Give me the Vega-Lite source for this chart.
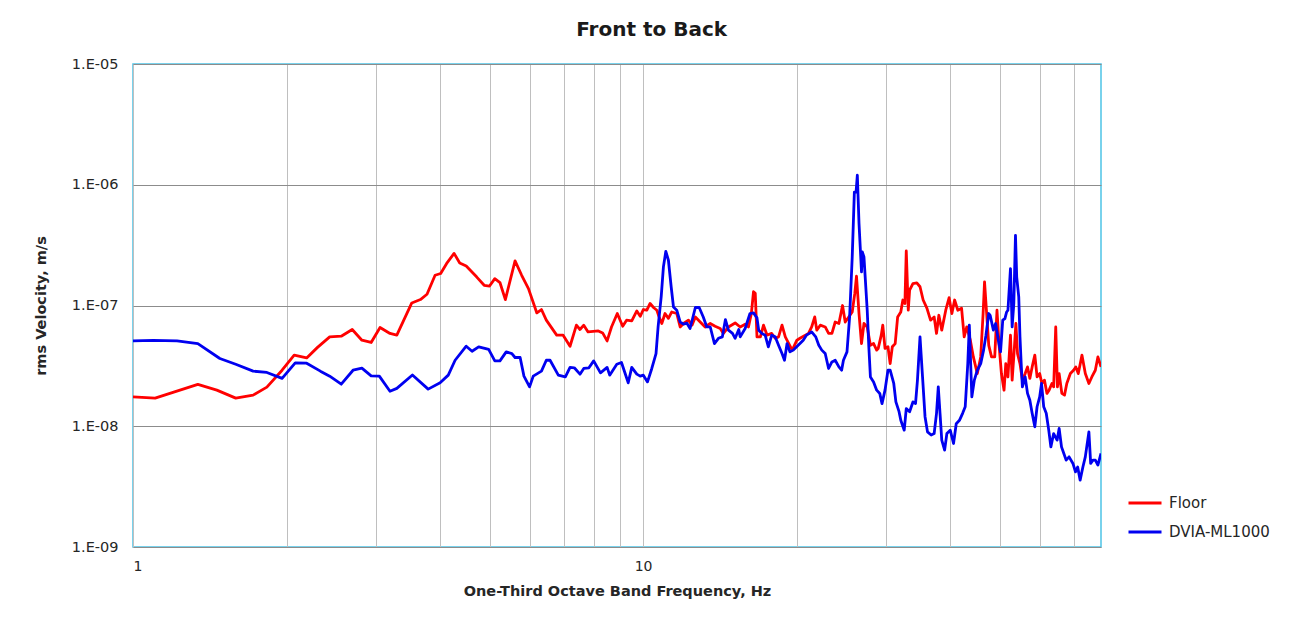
{
  "$schema": "https://vega.github.io/schema/vega-lite/v6.json",
  "autosize": {"type": "none"},
  "width": 968,
  "height": 483,
  "padding": {"left": 133, "top": 64, "right": 201, "bottom": 76},
  "background": "white",
  "config": {
    "font": "DejaVu Sans",
    "view": {"stroke": "#4DC3E6", "strokeWidth": 1.5},
    "axis": {"labelFont": "DejaVu Sans", "titleFont": "DejaVu Sans", "labelColor": "#262626", "titleColor": "#262626", "domain": false, "ticks": false},
    "legend": {"labelFont": "DejaVu Sans"}
  },
  "title": {"text": "Front to Back", "fontSize": 20, "fontWeight": "bold", "font": "DejaVu Sans", "color": "#1a1a1a", "anchor": "middle", "frame": "bounds", "offset": 16},
  "data": {"values": [
    {"s":"Floor","f":1.0,"v":1.75e-8},{"s":"Floor","f":1.105,"v":1.71e-8},{"s":"Floor","f":1.34,"v":2.22e-8},{"s":"Floor","f":1.46,"v":1.99e-8},{"s":"Floor","f":1.59,"v":1.71e-8},{"s":"Floor","f":1.72,"v":1.81e-8},{"s":"Floor","f":1.83,"v":2.11e-8},{"s":"Floor","f":1.96,"v":2.91e-8},{"s":"Floor","f":2.07,"v":3.88e-8},{"s":"Floor","f":2.19,"v":3.68e-8},{"s":"Floor","f":2.30,"v":4.5e-8},{"s":"Floor","f":2.43,"v":5.5e-8},{"s":"Floor","f":2.56,"v":5.57e-8},{"s":"Floor","f":2.69,"v":6.33e-8},{"s":"Floor","f":2.81,"v":5.16e-8},{"s":"Floor","f":2.93,"v":4.94e-8},{"s":"Floor","f":3.05,"v":6.58e-8},{"s":"Floor","f":3.19,"v":5.87e-8},{"s":"Floor","f":3.29,"v":5.68e-8},{"s":"Floor","f":3.52,"v":1.05e-7},{"s":"Floor","f":3.66,"v":1.12e-7},{"s":"Floor","f":3.77,"v":1.24e-7},{"s":"Floor","f":3.91,"v":1.78e-7},{"s":"Floor","f":4.01,"v":1.84e-7},{"s":"Floor","f":4.12,"v":2.23e-7},{"s":"Floor","f":4.26,"v":2.70e-7},{"s":"Floor","f":4.37,"v":2.25e-7},{"s":"Floor","f":4.50,"v":2.12e-7},{"s":"Floor","f":4.72,"v":1.72e-7},{"s":"Floor","f":4.88,"v":1.47e-7},{"s":"Floor","f":5.0,"v":1.45e-7},{"s":"Floor","f":5.12,"v":1.67e-7},{"s":"Floor","f":5.24,"v":1.55e-7},{"s":"Floor","f":5.37,"v":1.12e-7},{"s":"Floor","f":5.61,"v":2.34e-7},{"s":"Floor","f":5.78,"v":1.78e-7},{"s":"Floor","f":5.96,"v":1.38e-7},{"s":"Floor","f":6.19,"v":8.68e-8},{"s":"Floor","f":6.32,"v":9.26e-8},{"s":"Floor","f":6.46,"v":7.56e-8},{"s":"Floor","f":6.77,"v":5.68e-8},{"s":"Floor","f":6.97,"v":5.68e-8},{"s":"Floor","f":7.19,"v":4.6e-8},{"s":"Floor","f":7.40,"v":6.87e-8},{"s":"Floor","f":7.52,"v":6.33e-8},{"s":"Floor","f":7.65,"v":6.87e-8},{"s":"Floor","f":7.8,"v":6.04e-8},{"s":"Floor","f":8.17,"v":6.16e-8},{"s":"Floor","f":8.33,"v":5.93e-8},{"s":"Floor","f":8.5,"v":5.09e-8},{"s":"Floor","f":8.67,"v":6.64e-8},{"s":"Floor","f":8.90,"v":8.58e-8},{"s":"Floor","f":9.12,"v":6.74e-8},{"s":"Floor","f":9.28,"v":7.56e-8},{"s":"Floor","f":9.50,"v":7.46e-8},{"s":"Floor","f":9.72,"v":9.02e-8},{"s":"Floor","f":9.87,"v":8.14e-8},
    {"s":"Floor","f":10.01,"v":9.26e-8},{"s":"Floor","f":10.17,"v":9.14e-8},{"s":"Floor","f":10.32,"v":1.04e-7},{"s":"Floor","f":10.48,"v":9.63e-8},{"s":"Floor","f":10.64,"v":9.14e-8},{"s":"Floor","f":10.75,"v":8.04e-8},{"s":"Floor","f":10.88,"v":7.1e-8},{"s":"Floor","f":11.04,"v":8.58e-8},{"s":"Floor","f":11.21,"v":7.82e-8},{"s":"Floor","f":11.38,"v":8.84e-8},{"s":"Floor","f":11.64,"v":8.58e-8},{"s":"Floor","f":11.82,"v":6.64e-8},{"s":"Floor","f":12.0,"v":7.1e-8},{"s":"Floor","f":12.27,"v":7.56e-8},{"s":"Floor","f":12.47,"v":6.87e-8},{"s":"Floor","f":12.66,"v":8.04e-8},{"s":"Floor","f":12.94,"v":7.3e-8},{"s":"Floor","f":13.23,"v":6.64e-8},{"s":"Floor","f":13.54,"v":7.1e-8},{"s":"Floor","f":13.84,"v":6.74e-8},{"s":"Floor","f":14.16,"v":6.45e-8},{"s":"Floor","f":14.37,"v":5.87e-8},{"s":"Floor","f":14.70,"v":6.64e-8},{"s":"Floor","f":15.15,"v":7.17e-8},{"s":"Floor","f":15.50,"v":6.64e-8},{"s":"Floor","f":15.85,"v":7.0e-8},{"s":"Floor","f":16.09,"v":6.64e-8},{"s":"Floor","f":16.3,"v":8.58e-8},{"s":"Floor","f":16.46,"v":1.30e-7},{"s":"Floor","f":16.59,"v":1.26e-7},{"s":"Floor","f":16.72,"v":5.5e-8},{"s":"Floor","f":16.98,"v":5.5e-8},{"s":"Floor","f":17.22,"v":6.87e-8},{"s":"Floor","f":17.5,"v":5.68e-8},{"s":"Floor","f":17.87,"v":5.87e-8},{"s":"Floor","f":18.15,"v":5.35e-8},{"s":"Floor","f":18.43,"v":5.5e-8},{"s":"Floor","f":18.72,"v":6.87e-8},{"s":"Floor","f":19.0,"v":5.5e-8},{"s":"Floor","f":19.3,"v":4.84e-8},{"s":"Floor","f":19.6,"v":4.27e-8},{"s":"Floor","f":20.02,"v":5.16e-8},{"s":"Floor","f":20.3,"v":5.35e-8},{"s":"Floor","f":20.8,"v":5.68e-8},{"s":"Floor","f":21.1,"v":5.87e-8},{"s":"Floor","f":21.4,"v":6.64e-8},{"s":"Floor","f":21.7,"v":8.04e-8},{"s":"Floor","f":21.9,"v":6.25e-8},{"s":"Floor","f":22.25,"v":6.87e-8},{"s":"Floor","f":22.75,"v":6.64e-8},{"s":"Floor","f":23.1,"v":5.87e-8},{"s":"Floor","f":23.45,"v":5.87e-8},{"s":"Floor","f":23.8,"v":7.3e-8},{"s":"Floor","f":24.2,"v":7.1e-8},{"s":"Floor","f":24.6,"v":1.0e-7},{"s":"Floor","f":24.9,"v":7.3e-8},{"s":"Floor","f":25.3,"v":8.04e-8},{"s":"Floor","f":25.7,"v":8.84e-8},{"s":"Floor","f":26.0,"v":1.26e-7},{"s":"Floor","f":26.2,"v":1.75e-7},{"s":"Floor","f":26.5,"v":8.58e-8},{"s":"Floor","f":26.8,"v":4.84e-8},{"s":"Floor","f":27.1,"v":7.1e-8},{"s":"Floor","f":27.5,"v":6.64e-8},{"s":"Floor","f":27.9,"v":4.68e-8},{"s":"Floor","f":28.3,"v":4.84e-8},{"s":"Floor","f":28.7,"v":4.27e-8},{"s":"Floor","f":28.9,"v":4.41e-8},{"s":"Floor","f":29.3,"v":5.68e-8},{"s":"Floor","f":29.5,"v":6.87e-8},{"s":"Floor","f":29.8,"v":4.41e-8},{"s":"Floor","f":30.2,"v":4.55e-8},{"s":"Floor","f":30.5,"v":3.3e-8},{"s":"Floor","f":30.8,"v":4.55e-8},{"s":"Floor","f":31.2,"v":4.84e-8},{"s":"Floor","f":31.55,"v":8.04e-8},{"s":"Floor","f":32.0,"v":8.84e-8},{"s":"Floor","f":32.3,"v":1.11e-7},{"s":"Floor","f":32.6,"v":1.04e-7},{"s":"Floor","f":32.8,"v":2.83e-7},{"s":"Floor","f":33.1,"v":9.14e-8},{"s":"Floor","f":33.3,"v":1.34e-7},{"s":"Floor","f":33.8,"v":1.52e-7},{"s":"Floor","f":34.4,"v":1.54e-7},{"s":"Floor","f":34.9,"v":1.43e-7},{"s":"Floor","f":35.4,"v":1.11e-7},{"s":"Floor","f":36.0,"v":9.5e-8},{"s":"Floor","f":36.6,"v":7.56e-8},{"s":"Floor","f":37.2,"v":8.04e-8},{"s":"Floor","f":37.6,"v":5.87e-8},{"s":"Floor","f":38.0,"v":8.3e-8},{"s":"Floor","f":38.5,"v":6.25e-8},{"s":"Floor","f":39.2,"v":9.14e-8},{"s":"Floor","f":39.8,"v":1.16e-7},{"s":"Floor","f":40.3,"v":8.58e-8},{"s":"Floor","f":40.8,"v":1.11e-7},{"s":"Floor","f":41.4,"v":9.14e-8},{"s":"Floor","f":42.1,"v":9.5e-8},{"s":"Floor","f":42.6,"v":5.5e-8},{"s":"Floor","f":43.1,"v":6.64e-8},{"s":"Floor","f":43.8,"v":5.16e-8},{"s":"Floor","f":44.4,"v":3.75e-8},{"s":"Floor","f":45.2,"v":2.73e-8},{"s":"Floor","f":45.9,"v":3.75e-8},{"s":"Floor","f":46.4,"v":8.58e-8},{"s":"Floor","f":46.7,"v":1.57e-7},{"s":"Floor","f":47.1,"v":9.14e-8},{"s":"Floor","f":47.6,"v":4.68e-8},{"s":"Floor","f":48.2,"v":3.75e-8},{"s":"Floor","f":48.9,"v":3.75e-8},{"s":"Floor","f":49.4,"v":9.14e-8},{"s":"Floor","f":49.9,"v":4.55e-8},{"s":"Floor","f":50.4,"v":2.73e-8},{"s":"Floor","f":51.0,"v":1.99e-8},{"s":"Floor","f":51.4,"v":3.3e-8},{"s":"Floor","f":51.9,"v":2.56e-8},{"s":"Floor","f":52.5,"v":5.68e-8},{"s":"Floor","f":52.9,"v":2.41e-8},{"s":"Floor","f":53.4,"v":4.27e-8},{"s":"Floor","f":53.8,"v":7.1e-8},{"s":"Floor","f":54.2,"v":4.0e-8},{"s":"Floor","f":54.8,"v":3.3e-8},{"s":"Floor","f":55.4,"v":2.41e-8},{"s":"Floor","f":56.1,"v":2.73e-8},{"s":"Floor","f":56.7,"v":3.1e-8},{"s":"Floor","f":57.3,"v":2.49e-8},{"s":"Floor","f":57.9,"v":3.1e-8},{"s":"Floor","f":58.6,"v":3.88e-8},{"s":"Floor","f":59.2,"v":2.56e-8},{"s":"Floor","f":59.9,"v":2.73e-8},{"s":"Floor","f":60.5,"v":2.26e-8},{"s":"Floor","f":61.2,"v":2.41e-8},{"s":"Floor","f":61.9,"v":1.87e-8},{"s":"Floor","f":62.5,"v":1.99e-8},{"s":"Floor","f":63.3,"v":2.26e-8},{"s":"Floor","f":63.8,"v":2.12e-8},{"s":"Floor","f":64.4,"v":6.64e-8},{"s":"Floor","f":64.9,"v":2.12e-8},{"s":"Floor","f":65.4,"v":2.73e-8},{"s":"Floor","f":66.2,"v":1.87e-8},{"s":"Floor","f":67.0,"v":1.81e-8},{"s":"Floor","f":67.7,"v":2.26e-8},{"s":"Floor","f":68.8,"v":2.73e-8},{"s":"Floor","f":69.8,"v":2.91e-8},{"s":"Floor","f":70.5,"v":3.1e-8},{"s":"Floor","f":71.3,"v":2.73e-8},{"s":"Floor","f":72.5,"v":3.88e-8},{"s":"Floor","f":73.6,"v":2.73e-8},{"s":"Floor","f":74.8,"v":2.26e-8},{"s":"Floor","f":75.8,"v":2.56e-8},{"s":"Floor","f":77.0,"v":2.91e-8},{"s":"Floor","f":77.9,"v":3.75e-8},{"s":"Floor","f":79.0,"v":3.1e-8},
    {"s":"DVIA-ML1000","f":1.0,"v":5.09e-8},{"s":"DVIA-ML1000","f":1.096,"v":5.14e-8},{"s":"DVIA-ML1000","f":1.22,"v":5.09e-8},{"s":"DVIA-ML1000","f":1.34,"v":4.84e-8},{"s":"DVIA-ML1000","f":1.48,"v":3.64e-8},{"s":"DVIA-ML1000","f":1.59,"v":3.26e-8},{"s":"DVIA-ML1000","f":1.72,"v":2.86e-8},{"s":"DVIA-ML1000","f":1.83,"v":2.79e-8},{"s":"DVIA-ML1000","f":1.96,"v":2.49e-8},{"s":"DVIA-ML1000","f":2.08,"v":3.35e-8},{"s":"DVIA-ML1000","f":2.19,"v":3.33e-8},{"s":"DVIA-ML1000","f":2.33,"v":2.86e-8},{"s":"DVIA-ML1000","f":2.43,"v":2.6e-8},{"s":"DVIA-ML1000","f":2.56,"v":2.23e-8},{"s":"DVIA-ML1000","f":2.70,"v":2.91e-8},{"s":"DVIA-ML1000","f":2.81,"v":3.03e-8},{"s":"DVIA-ML1000","f":2.93,"v":2.61e-8},{"s":"DVIA-ML1000","f":3.04,"v":2.6e-8},{"s":"DVIA-ML1000","f":3.19,"v":1.95e-8},{"s":"DVIA-ML1000","f":3.29,"v":2.06e-8},{"s":"DVIA-ML1000","f":3.53,"v":2.66e-8},{"s":"DVIA-ML1000","f":3.79,"v":2.03e-8},{"s":"DVIA-ML1000","f":4.0,"v":2.29e-8},{"s":"DVIA-ML1000","f":4.15,"v":2.65e-8},{"s":"DVIA-ML1000","f":4.28,"v":3.52e-8},{"s":"DVIA-ML1000","f":4.50,"v":4.6e-8},{"s":"DVIA-ML1000","f":4.62,"v":4.18e-8},{"s":"DVIA-ML1000","f":4.76,"v":4.55e-8},{"s":"DVIA-ML1000","f":4.98,"v":4.33e-8},{"s":"DVIA-ML1000","f":5.12,"v":3.48e-8},{"s":"DVIA-ML1000","f":5.24,"v":3.48e-8},{"s":"DVIA-ML1000","f":5.39,"v":4.13e-8},{"s":"DVIA-ML1000","f":5.53,"v":4.0e-8},{"s":"DVIA-ML1000","f":5.61,"v":3.71e-8},{"s":"DVIA-ML1000","f":5.74,"v":3.71e-8},{"s":"DVIA-ML1000","f":5.84,"v":2.6e-8},{"s":"DVIA-ML1000","f":5.99,"v":2.12e-8},{"s":"DVIA-ML1000","f":6.09,"v":2.6e-8},{"s":"DVIA-ML1000","f":6.32,"v":2.86e-8},{"s":"DVIA-ML1000","f":6.46,"v":3.52e-8},{"s":"DVIA-ML1000","f":6.57,"v":3.52e-8},{"s":"DVIA-ML1000","f":6.82,"v":2.65e-8},{"s":"DVIA-ML1000","f":7.04,"v":2.56e-8},{"s":"DVIA-ML1000","f":7.19,"v":3.07e-8},{"s":"DVIA-ML1000","f":7.33,"v":3.05e-8},{"s":"DVIA-ML1000","f":7.52,"v":2.7e-8},{"s":"DVIA-ML1000","f":7.65,"v":3.01e-8},{"s":"DVIA-ML1000","f":7.83,"v":3.05e-8},{"s":"DVIA-ML1000","f":8.0,"v":3.48e-8},{"s":"DVIA-ML1000","f":8.25,"v":2.77e-8},{"s":"DVIA-ML1000","f":8.5,"v":3.07e-8},{"s":"DVIA-ML1000","f":8.6,"v":2.65e-8},{"s":"DVIA-ML1000","f":8.88,"v":3.26e-8},{"s":"DVIA-ML1000","f":9.07,"v":3.37e-8},{"s":"DVIA-ML1000","f":9.35,"v":2.29e-8},{"s":"DVIA-ML1000","f":9.5,"v":3.07e-8},{"s":"DVIA-ML1000","f":9.72,"v":2.7e-8},{"s":"DVIA-ML1000","f":9.87,"v":2.6e-8},
    {"s":"DVIA-ML1000","f":10.01,"v":2.65e-8},{"s":"DVIA-ML1000","f":10.2,"v":2.33e-8},{"s":"DVIA-ML1000","f":10.4,"v":3.01e-8},{"s":"DVIA-ML1000","f":10.6,"v":4.0e-8},{"s":"DVIA-ML1000","f":10.7,"v":6.64e-8},{"s":"DVIA-ML1000","f":10.85,"v":1.18e-7},{"s":"DVIA-ML1000","f":10.96,"v":2.09e-7},{"s":"DVIA-ML1000","f":11.08,"v":2.81e-7},{"s":"DVIA-ML1000","f":11.21,"v":2.37e-7},{"s":"DVIA-ML1000","f":11.35,"v":1.43e-7},{"s":"DVIA-ML1000","f":11.47,"v":9.7e-8},{"s":"DVIA-ML1000","f":11.64,"v":9.14e-8},{"s":"DVIA-ML1000","f":11.82,"v":7.3e-8},{"s":"DVIA-ML1000","f":12.0,"v":7.0e-8},{"s":"DVIA-ML1000","f":12.18,"v":7.15e-8},{"s":"DVIA-ML1000","f":12.36,"v":6.45e-8},{"s":"DVIA-ML1000","f":12.66,"v":9.63e-8},{"s":"DVIA-ML1000","f":12.88,"v":9.63e-8},{"s":"DVIA-ML1000","f":13.12,"v":8.04e-8},{"s":"DVIA-ML1000","f":13.33,"v":6.64e-8},{"s":"DVIA-ML1000","f":13.54,"v":6.64e-8},{"s":"DVIA-ML1000","f":13.8,"v":4.84e-8},{"s":"DVIA-ML1000","f":14.05,"v":5.35e-8},{"s":"DVIA-ML1000","f":14.3,"v":5.5e-8},{"s":"DVIA-ML1000","f":14.5,"v":7.65e-8},{"s":"DVIA-ML1000","f":14.7,"v":6.25e-8},{"s":"DVIA-ML1000","f":14.97,"v":5.87e-8},{"s":"DVIA-ML1000","f":15.15,"v":5.35e-8},{"s":"DVIA-ML1000","f":15.4,"v":6.33e-8},{"s":"DVIA-ML1000","f":15.5,"v":5.5e-8},{"s":"DVIA-ML1000","f":15.85,"v":6.45e-8},{"s":"DVIA-ML1000","f":16.2,"v":8.58e-8},{"s":"DVIA-ML1000","f":16.46,"v":8.68e-8},{"s":"DVIA-ML1000","f":16.72,"v":7.9e-8},{"s":"DVIA-ML1000","f":16.85,"v":6.25e-8},{"s":"DVIA-ML1000","f":17.1,"v":5.87e-8},{"s":"DVIA-ML1000","f":17.35,"v":5.68e-8},{"s":"DVIA-ML1000","f":17.6,"v":4.55e-8},{"s":"DVIA-ML1000","f":17.87,"v":5.68e-8},{"s":"DVIA-ML1000","f":18.15,"v":5.5e-8},{"s":"DVIA-ML1000","f":18.43,"v":4.68e-8},{"s":"DVIA-ML1000","f":18.72,"v":4.0e-8},{"s":"DVIA-ML1000","f":18.93,"v":3.52e-8},{"s":"DVIA-ML1000","f":19.15,"v":4.84e-8},{"s":"DVIA-ML1000","f":19.4,"v":4.13e-8},{"s":"DVIA-ML1000","f":19.7,"v":4.27e-8},{"s":"DVIA-ML1000","f":20.0,"v":4.55e-8},{"s":"DVIA-ML1000","f":20.3,"v":4.84e-8},{"s":"DVIA-ML1000","f":20.6,"v":5.16e-8},{"s":"DVIA-ML1000","f":20.9,"v":5.68e-8},{"s":"DVIA-ML1000","f":21.4,"v":6.04e-8},{"s":"DVIA-ML1000","f":21.8,"v":5.5e-8},{"s":"DVIA-ML1000","f":22.1,"v":4.68e-8},{"s":"DVIA-ML1000","f":22.4,"v":4.27e-8},{"s":"DVIA-ML1000","f":22.75,"v":4.0e-8},{"s":"DVIA-ML1000","f":23.1,"v":3.01e-8},{"s":"DVIA-ML1000","f":23.45,"v":3.41e-8},{"s":"DVIA-ML1000","f":23.8,"v":3.52e-8},{"s":"DVIA-ML1000","f":24.2,"v":3.1e-8},{"s":"DVIA-ML1000","f":24.5,"v":2.91e-8},{"s":"DVIA-ML1000","f":24.7,"v":3.52e-8},{"s":"DVIA-ML1000","f":25.1,"v":4.13e-8},{"s":"DVIA-ML1000","f":25.4,"v":8.04e-8},{"s":"DVIA-ML1000","f":25.7,"v":2.52e-7},{"s":"DVIA-ML1000","f":25.95,"v":8.7e-7},{"s":"DVIA-ML1000","f":26.15,"v":8.7e-7},{"s":"DVIA-ML1000","f":26.3,"v":1.2e-6},{"s":"DVIA-ML1000","f":26.5,"v":4.77e-7},{"s":"DVIA-ML1000","f":26.8,"v":1.9e-7},{"s":"DVIA-ML1000","f":26.9,"v":2.78e-7},{"s":"DVIA-ML1000","f":27.1,"v":2.52e-7},{"s":"DVIA-ML1000","f":27.25,"v":1.72e-7},{"s":"DVIA-ML1000","f":27.5,"v":9.14e-8},{"s":"DVIA-ML1000","f":27.7,"v":4.55e-8},{"s":"DVIA-ML1000","f":27.9,"v":2.56e-8},{"s":"DVIA-ML1000","f":28.3,"v":2.33e-8},{"s":"DVIA-ML1000","f":28.7,"v":1.99e-8},{"s":"DVIA-ML1000","f":29.1,"v":1.87e-8},{"s":"DVIA-ML1000","f":29.4,"v":1.54e-8},{"s":"DVIA-ML1000","f":29.8,"v":1.99e-8},{"s":"DVIA-ML1000","f":30.2,"v":2.91e-8},{"s":"DVIA-ML1000","f":30.5,"v":2.91e-8},{"s":"DVIA-ML1000","f":31.0,"v":2.26e-8},{"s":"DVIA-ML1000","f":31.3,"v":1.59e-8},{"s":"DVIA-ML1000","f":31.75,"v":1.32e-8},{"s":"DVIA-ML1000","f":32.0,"v":1.12e-8},{"s":"DVIA-ML1000","f":32.5,"v":9.28e-9},{"s":"DVIA-ML1000","f":32.8,"v":1.4e-8},{"s":"DVIA-ML1000","f":33.3,"v":1.32e-8},{"s":"DVIA-ML1000","f":33.8,"v":1.59e-8},{"s":"DVIA-ML1000","f":34.2,"v":1.54e-8},{"s":"DVIA-ML1000","f":34.5,"v":2.41e-8},{"s":"DVIA-ML1000","f":34.9,"v":5.5e-8},{"s":"DVIA-ML1000","f":35.3,"v":2.56e-8},{"s":"DVIA-ML1000","f":35.7,"v":1.2e-8},{"s":"DVIA-ML1000","f":36.1,"v":8.98e-9},{"s":"DVIA-ML1000","f":36.7,"v":8.46e-9},{"s":"DVIA-ML1000","f":37.2,"v":8.7e-9},{"s":"DVIA-ML1000","f":37.6,"v":1.28e-8},{"s":"DVIA-ML1000","f":37.9,"v":2.12e-8},{"s":"DVIA-ML1000","f":38.2,"v":1.28e-8},{"s":"DVIA-ML1000","f":38.5,"v":7.67e-9},{"s":"DVIA-ML1000","f":39.0,"v":6.35e-9},{"s":"DVIA-ML1000","f":39.4,"v":8.7e-9},{"s":"DVIA-ML1000","f":40.0,"v":9.28e-9},{"s":"DVIA-ML1000","f":40.6,"v":7.2e-9},{"s":"DVIA-ML1000","f":41.1,"v":1.05e-8},{"s":"DVIA-ML1000","f":41.7,"v":1.12e-8},{"s":"DVIA-ML1000","f":42.3,"v":1.28e-8},{"s":"DVIA-ML1000","f":42.8,"v":1.45e-8},{"s":"DVIA-ML1000","f":43.3,"v":3.3e-8},{"s":"DVIA-ML1000","f":43.6,"v":6.87e-8},{"s":"DVIA-ML1000","f":44.1,"v":1.75e-8},{"s":"DVIA-ML1000","f":44.6,"v":2.41e-8},{"s":"DVIA-ML1000","f":45.2,"v":2.91e-8},{"s":"DVIA-ML1000","f":45.9,"v":3.3e-8},{"s":"DVIA-ML1000","f":46.5,"v":4.27e-8},{"s":"DVIA-ML1000","f":47.0,"v":5.68e-8},{"s":"DVIA-ML1000","f":47.6,"v":8.58e-8},{"s":"DVIA-ML1000","f":47.9,"v":8.3e-8},{"s":"DVIA-ML1000","f":48.6,"v":6.25e-8},{"s":"DVIA-ML1000","f":49.1,"v":7.1e-8},{"s":"DVIA-ML1000","f":49.7,"v":5.16e-8},{"s":"DVIA-ML1000","f":50.2,"v":4.13e-8},{"s":"DVIA-ML1000","f":50.7,"v":7.56e-8},{"s":"DVIA-ML1000","f":51.2,"v":7.8e-8},{"s":"DVIA-ML1000","f":51.6,"v":8.84e-8},{"s":"DVIA-ML1000","f":51.9,"v":9.14e-8},{"s":"DVIA-ML1000","f":52.5,"v":2.02e-7},{"s":"DVIA-ML1000","f":52.9,"v":6.64e-8},{"s":"DVIA-ML1000","f":53.3,"v":1.04e-7},{"s":"DVIA-ML1000","f":53.7,"v":3.81e-7},{"s":"DVIA-ML1000","f":54.0,"v":1.72e-7},{"s":"DVIA-ML1000","f":54.5,"v":1.18e-7},{"s":"DVIA-ML1000","f":54.8,"v":5.5e-8},{"s":"DVIA-ML1000","f":55.1,"v":3.3e-8},{"s":"DVIA-ML1000","f":55.4,"v":2.12e-8},{"s":"DVIA-ML1000","f":56.1,"v":2.56e-8},{"s":"DVIA-ML1000","f":56.7,"v":1.87e-8},{"s":"DVIA-ML1000","f":57.3,"v":1.64e-8},{"s":"DVIA-ML1000","f":57.9,"v":1.28e-8},{"s":"DVIA-ML1000","f":58.6,"v":9.9e-9},{"s":"DVIA-ML1000","f":59.2,"v":1.45e-8},{"s":"DVIA-ML1000","f":59.9,"v":1.75e-8},{"s":"DVIA-ML1000","f":60.4,"v":2.26e-8},{"s":"DVIA-ML1000","f":61.0,"v":1.45e-8},{"s":"DVIA-ML1000","f":61.7,"v":1.28e-8},{"s":"DVIA-ML1000","f":62.4,"v":9.28e-9},{"s":"DVIA-ML1000","f":63.0,"v":6.75e-9},{"s":"DVIA-ML1000","f":63.8,"v":8.7e-9},{"s":"DVIA-ML1000","f":64.8,"v":7.67e-9},{"s":"DVIA-ML1000","f":65.4,"v":9.6e-9},{"s":"DVIA-ML1000","f":66.1,"v":6.75e-9},{"s":"DVIA-ML1000","f":66.8,"v":5.95e-9},{"s":"DVIA-ML1000","f":67.5,"v":5.24e-9},{"s":"DVIA-ML1000","f":68.4,"v":5.58e-9},{"s":"DVIA-ML1000","f":69.6,"v":4.92e-9},{"s":"DVIA-ML1000","f":70.4,"v":4.19e-9},{"s":"DVIA-ML1000","f":71.1,"v":4.6e-9},{"s":"DVIA-ML1000","f":71.9,"v":3.58e-9},{"s":"DVIA-ML1000","f":72.8,"v":4.6e-9},{"s":"DVIA-ML1000","f":73.6,"v":5.58e-9},{"s":"DVIA-ML1000","f":74.8,"v":8.98e-9},{"s":"DVIA-ML1000","f":75.4,"v":4.92e-9},{"s":"DVIA-ML1000","f":76.2,"v":5.24e-9},{"s":"DVIA-ML1000","f":77.0,"v":5.24e-9},{"s":"DVIA-ML1000","f":77.9,"v":4.77e-9},{"s":"DVIA-ML1000","f":79.0,"v":5.95e-9}
  ]},
  "mark": {"type": "line", "strokeWidth": 2.8, "clip": true, "strokeJoin": "round"},
  "encoding": {
    "x": {
      "field": "f", "type": "quantitative",
      "scale": {"type": "log", "domain": [1, 79], "nice": false},
      "axis": {
        "title": "One-Third Octave Band Frequency, Hz",
        "titleFontSize": 14.5, "titleFontWeight": "bold", "titlePadding": 11,
        "values": [1, 2, 3, 4, 5, 6, 7, 8, 9, 10, 20, 30, 40, 50, 60, 70],
        "labelExpr": "datum.value == 1 || datum.value == 10 ? datum.label : ''",
        "format": "d", "labelFontSize": 14, "labelPadding": 12,
        "grid": true, "gridColor": "#bfbfbf", "gridWidth": 1
      }
    },
    "y": {
      "field": "v", "type": "quantitative",
      "scale": {"type": "log", "domain": [1e-9, 1e-5], "nice": false},
      "axis": {
        "title": "rms Velocity, m/s",
        "titleFontSize": 14.5, "titleFontWeight": "bold", "titlePadding": 23,
        "values": [1e-9, 1e-8, 1e-7, 1e-6, 1e-5],
        "labelExpr": "'1.E-' + format(-round(log(datum.value) / LN10), '02d')",
        "labelFontSize": 14.5, "labelPadding": 15,
        "grid": true, "gridColor": "#8c8c8c", "gridWidth": 1
      }
    },
    "color": {
      "field": "s", "type": "nominal",
      "scale": {"domain": ["Floor", "DVIA-ML1000"], "range": ["#FF0000", "#0000F0"]},
      "legend": {
        "title": null, "orient": "none", "legendX": 994, "legendY": 421,
        "symbolType": "stroke", "symbolSize": 1089, "symbolStrokeWidth": 2.8,
        "labelFontSize": 15, "labelColor": "#262626", "labelOffset": 6, "rowPadding": 3
      }
    }
  }
}
